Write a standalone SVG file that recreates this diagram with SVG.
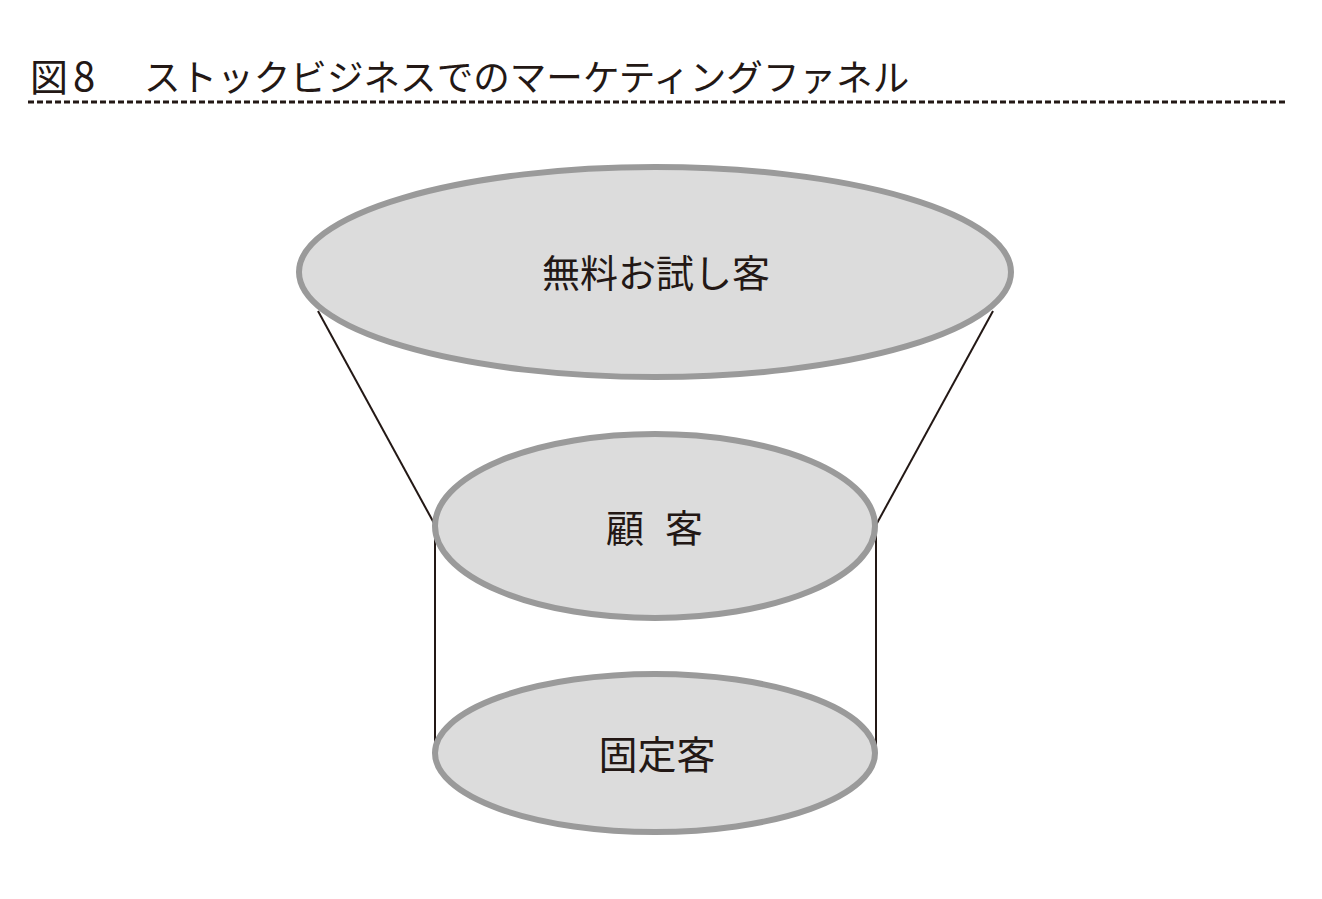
<svg xmlns="http://www.w3.org/2000/svg" width="1322" height="899" viewBox="0 0 1322 899">
<style>
.t{font-family:"Noto Sans CJK JP","Noto Sans",sans-serif;fill:#231815}
.e{fill:#dcdcdc;stroke:#9a9a9a;stroke-width:6}
.c{stroke:#231815;stroke-width:2;fill:none}
</style>
<rect width="1322" height="899" fill="#fff"/>
<g id="title">
<text class="t" x="30" y="91" font-size="38">図</text>
<text class="t" x="73" y="91" font-size="40" font-family="Liberation Sans">8</text>
<text class="t" x="144" y="91" font-size="36.6">ストックビジネスでのマーケティングファネル</text>
<line x1="28" y1="102" x2="1286" y2="102" stroke="#231815" stroke-width="3" stroke-dasharray="6 3"/>
</g>
<g id="connectors">
<line class="c" x1="318" y1="311" x2="435" y2="525"/>
<line class="c" x1="993" y1="311" x2="876" y2="525"/>
<line class="c" x1="435" y1="528" x2="435" y2="748"/>
<line class="c" x1="876" y1="528" x2="876" y2="748"/>
</g>
<g id="node-free">
<ellipse class="e" cx="655" cy="272" rx="356" ry="105"/>
<text class="t" x="656" y="287" font-size="38" text-anchor="middle">無料お試し客</text>
</g>
<g id="node-customer">
<ellipse class="e" cx="655" cy="526" rx="220" ry="92"/>
<text class="t" y="542" font-size="38"><tspan x="606">顧</tspan> <tspan x="665">客</tspan></text>
</g>
<g id="node-fixed">
<ellipse class="e" cx="655" cy="753" rx="220" ry="79"/>
<text class="t" x="657" y="769" font-size="39" text-anchor="middle">固定客</text>
</g>
</svg>
